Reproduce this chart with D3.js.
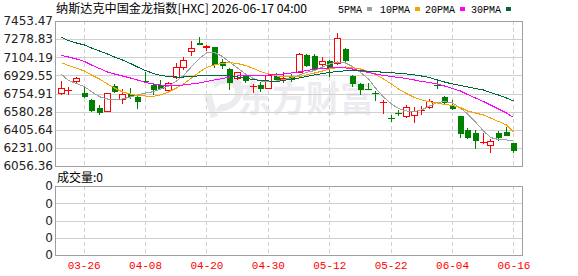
<!DOCTYPE html>
<html>
<head>
<meta charset="utf-8">
<script src="https://cdn.jsdelivr.net/npm/d3@7"></script>
<style>
body { margin: 0; background: #fff; }
svg { display: block; }
</style>
</head>
<body>
<div id="chart"></div>
<script>
// trading days shown (2026)
const dates = ["03-23","03-24","03-25","03-26","03-27","03-30","03-31","04-01","04-02","04-06",
  "04-07","04-08","04-09","04-10","04-13","04-14","04-15","04-16","04-17","04-20",
  "04-21","04-22","04-23","04-24","04-27","04-28","04-29","04-30","05-01","05-04",
  "05-05","05-06","05-07","05-08","05-11","05-12","05-13","05-14","05-15","05-18",
  "05-19","05-20","05-21","05-22","05-26","05-27","05-28","05-29","06-01","06-02",
  "06-03","06-04","06-05","06-08","06-09","06-10","06-11","06-12","06-15","06-16"];

const open = [6762.6,6784,6878.3,6762.6,6689.4,6615.3,6589.2,6827.2,6702.0,6747.3,
  6724.1,6878.3,6836.9,6836.9,6788.7,6916.8,7013.2,7161.6,7238.6,7205,
  7200.1,7061.4,6991.0,6901.4,6923.6,6825,6836.9,6810.8,6926.5,6898,
  6913.9,6965.0,7125.9,7116.3,7036.3,7068.1,7051.7,7183.7,6923.6,6843.6,
  6799,6758,6669,6517,6571,6541.1,6547.8,6592,6627.8,6838,
  6724.1,6637.4,6536,6403.3,6377.3,6284,6255.9,6377.3,6384.0,6275.1];
const high = [6875.4,6814.7,6916.8,6827.2,6702.0,6641.3,6760,6846.5,6798.3,6810.8,
  6750.1,6965.0,6849.4,6882.1,6868.7,7051.7,7103.8,7260.8,7302.2,7222.3,
  7205.9,7084.5,7003.5,6966,6940.0,6846.5,6862.9,6942.8,6949.6,6962,
  6940,7145.2,7132.7,7132.7,7109.5,7077.7,7340.8,7190.5,6933.2,6853.2,
  6853.2,6779.0,6692.3,6547.8,6596.0,6644.2,6622.0,6634.5,6704.9,6885.0,
  6730.9,6692.3,6538.2,6419.7,6403.3,6377.3,6313.7,6390.8,6429.3,6280.9];
const low = [6750.1,6750.1,6853.2,6718.4,6586.3,6560.3,6586,6769.4,6666.3,6714.5,
  6618.1,6865.8,6753.0,6805.0,6779.0,6907.2,6993.9,7125.9,7234,7174.1,
  7013.2,7003.5,6798.3,6894.6,6868.7,6772.3,6779.0,6805.0,6885.0,6870,
  6878.3,6959.2,7017.0,6981.4,7029.6,6926.5,7036.3,7055.6,6827.2,6747.3,
  6795,6692.3,6564.2,6490.0,6547.8,6531.4,6483.3,6557.4,6612.4,6805.0,
  6666.3,6608.5,6338.7,6323.3,6232.8,6275.1,6188.4,6306.9,6352,6194.2];
const close = [6805.0,6786,6901.4,6730.9,6598.9,6579.6,6756.9,6781.9,6753.0,6733.8,
  6682.7,6872,6795.4,6810.8,6853.2,7013.2,7077.7,7190.5,7236,7208,
  7036.3,7029.6,6862.9,6959.2,6882.1,6828,6805.0,6933.2,6894.7,6901,
  6894.7,7132.7,7029.6,7003.5,7068.1,7013.2,7286.8,7077.7,6853.2,6798.3,
  6797,6756,6671,6515,6569,6622.0,6589.2,6594,6685.6,6836,
  6676.0,6615.3,6371.5,6332.9,6306.9,6286,6297.3,6338.7,6355.1,6210.6];

const ma5 = [6939.9,6880.2,6851.3,6820.4,6772.3,6724.1,6701.9,6692.3,6701.9,6721.2,
  6740.5,6759.7,6772.3,6798.3,6827.2,6875.4,6928.4,7013.1,7094.1,7145.1,
  7150.0,7111.4,7058.4,7000.6,6942.8,6899.5,6875.4,6870.5,6875.4,6889.8,
  6904.3,6933.2,6957.3,6976.5,7010.3,7039.2,7058.4,7048.8,7015.1,6957.3,
  6894.6,6807.9,6721.2,6653.8,6610.4,6586.3,6581.5,6596.0,6634.5,6668.2,
  6677.8,6663.4,6615.2,6557.4,6480.3,6393.6,6331.0,6311.7,6306.9,6302.1];
const ma10 = [7051.7,7024.7,6997.7,6971.7,6933.2,6894.6,6846.5,6807.9,6769.4,6750.1,
  6735.7,6730.8,6728.0,6740.5,6769.4,6807.9,6846.5,6904.3,6962.1,7005.4,
  7029.5,7045.9,7051.7,7044.0,7024.7,6995.8,6966.9,6942.8,6923.5,6915.8,
  6913.9,6918.7,6933.2,6952.4,6971.7,6991.0,7005.4,7010.3,7005.4,6991.0,
  6966.9,6938.0,6894.6,6846.5,6798.3,6754.9,6716.4,6692.3,6675.9,6663.4,
  6648.9,6639.3,6620.0,6586.3,6567.0,6547.8,6518.9,6485.1,6451.4,6384.0];
const ma20 = [7121.1,7106.6,7087.3,7063.2,7029.5,6995.8,6962.1,6942.8,6923.5,6904.3,
  6885.0,6860.9,6846.5,6836.8,6832.0,6832.0,6836.8,6846.5,6856.1,6870.5,
  6885.0,6899.5,6913.9,6923.5,6928.4,6930.3,6931.2,6933.2,6935.1,6942.8,
  6952.4,6964.0,6976.5,6988.1,6995.8,7000.6,7002.5,7000.6,6991.0,6971.7,
  6957.3,6942.8,6928.4,6918.7,6909.1,6899.5,6885.0,6870.5,6860.9,6846.5,
  6827.2,6803.1,6779.0,6745.3,6711.6,6677.8,6644.1,6605.6,6567.0,6523.7];
const ma30 = [7294.5,7265.6,7241.5,7222.2,7193.3,7164.4,7135.5,7106.6,7077.7,7044.0,
  7010.3,6976.5,6947.6,6928.4,6918.7,6913.9,6913.9,6918.7,6925.5,6928.4,
  6930.3,6928.4,6923.5,6913.9,6899.5,6889.8,6880.2,6875.4,6870.5,6880.2,
  6894.6,6904.3,6918.7,6933.2,6947.6,6957.3,6966.9,6973.6,6976.5,6973.6,
  6969.8,6965.0,6960.2,6955.3,6949.6,6942.8,6933.2,6923.5,6909.1,6885.0,
  6865.7,6846.5,6832.0,6817.6,6803.1,6788.6,6764.6,6740.5,6711.6,6682.7];

const yTicks = [7453.47,7278.83,7104.19,6929.55,6754.91,6580.28,6405.64,6231.00,6056.36];
const dateTicks = ["03-26","04-08","04-20","04-30","05-12","05-22","06-04","06-16"];
const volTicks = ["0","0","0","0","0"];
const maNames = ["5PMA","10PMA","20PMA","30PMA"];
const maColors = ["#a0a0a0","#f5a300","#ff00ff","#00693a"];

const W = 578, H = 276;
const pLeft = 55.5, pRight = 522.5, pTop = 21, pBottom = 166;
const vTop = 186, vBottom = 255;

const svg = d3.select("#chart").append("svg")
    .attr("width", W)
    .attr("height", H);

svg.append("rect").attr("width", W).attr("height", H).attr("fill", "#fff");

const x = d3.scaleBand().domain(dates).range([56.8, 517.3]);
const cx = d => Math.round(x(d) + x.bandwidth() / 2);
const y = d3.scaleLinear().domain([6056.36, 7453.47]).range([pBottom, pTop]);
const yv = d3.scaleLinear().domain([0, 4]).range([vBottom, vTop]);

// watermark
const wm = svg.append("g").attr("fill", "#ececf0");
wm.append("path")
    .attr("d", "M212,80 C226,70 246,76 243,92 C240,106 227,114 214,111 L221,104 C231,104 236,98 235,91 C233,82 222,82 215,88 Z M204,95 L211,118 L218,116 L211,93 Z");
wm.append("text")
    .attr("x", 238).attr("y", 112)
    .attr("font-family", "Noto Sans CJK SC")
    .attr("font-weight", "bold")
    .attr("font-size", 36)
    .attr("textLength", 136)
    .attr("lengthAdjust", "spacingAndGlyphs")
    .text("东方财富");

// grid
const grid = svg.append("g").attr("stroke", "#d0d0d0").attr("stroke-width", 1);
grid.append("g").selectAll("line").data(yTicks).join("line")
    .attr("x1", pLeft).attr("x2", pRight)
    .attr("y1", d => Math.round(y(d)) + 0.5).attr("y2", d => Math.round(y(d)) + 0.5);
grid.append("g").selectAll("line").data(d3.range(5)).join("line")
    .attr("x1", pLeft).attr("x2", pRight)
    .attr("y1", d => Math.round(yv(d)) + 0.5).attr("y2", d => Math.round(yv(d)) + 0.5);
[[pTop, pBottom], [vTop, vBottom]].forEach(([a, b]) => {
    grid.append("g").selectAll("line").data(dateTicks).join("line")
        .attr("x1", d => cx(d) + 0.5).attr("x2", d => cx(d) + 0.5)
        .attr("y1", a).attr("y2", b)
        .attr("stroke-dasharray", "4,3");
});

// candles
const up = "#ff0000", down = "#008000";
const candles = svg.append("g");
dates.forEach((d, i) => {
    const c = cx(d);
    const o = open[i], cl = close[i];
    const rise = cl >= o;
    const col = rise ? up : down;
    const yo = Math.round(y(o)), yc = Math.round(y(cl));
    const yh = Math.round(y(high[i])), yl = Math.round(y(low[i]));
    const g = candles.append("g").attr("stroke", col).attr("stroke-width", 1);
    if (Math.abs(yo - yc) < 1) {
        g.append("line").attr("x1", c + 0.5).attr("x2", c + 0.5).attr("y1", yh).attr("y2", yl + 1);
        g.append("line").attr("x1", c - 3).attr("x2", c + 4).attr("y1", yo + 0.5).attr("y2", yo + 0.5);
    } else if (rise) {
        g.append("line").attr("x1", c + 0.5).attr("x2", c + 0.5).attr("y1", yh).attr("y2", yc);
        g.append("line").attr("x1", c + 0.5).attr("x2", c + 0.5).attr("y1", yo).attr("y2", yl + 1);
        g.append("rect").attr("x", c - 2.5).attr("y", yc + 0.5)
            .attr("width", 6).attr("height", yo - yc)
            .attr("fill", "#fff");
    } else {
        g.append("line").attr("x1", c + 0.5).attr("x2", c + 0.5).attr("y1", yh).attr("y2", yl + 1);
        g.append("rect").attr("x", c - 2).attr("y", yo)
            .attr("width", 6).attr("height", yc - yo + 1)
            .attr("fill", col).attr("stroke", "none");
    }
});

// moving averages
const line = d3.line()
    .x((v, i) => cx(dates[i]) + 0.5)
    .y(v => y(v));
[ma5, ma10, ma20, ma30].forEach((s, k) => {
    svg.append("path")
        .datum(s)
        .attr("fill", "none")
        .attr("stroke", maColors[k])
        .attr("stroke-width", 1)
        .attr("shape-rendering", "crispEdges")
        .attr("d", line);
});

// frames
svg.append("rect").attr("x", pLeft).attr("y", pTop + 0.5)
    .attr("width", pRight - pLeft).attr("height", pBottom - pTop)
    .attr("fill", "none").attr("stroke", "#a0a0a0");
svg.append("rect").attr("x", pLeft).attr("y", vTop + 0.5)
    .attr("width", pRight - pLeft).attr("height", vBottom - vTop)
    .attr("fill", "none").attr("stroke", "#a0a0a0");

// axes
const yAxis = svg.append("g")
    .attr("transform", "translate(54,0)")
    .call(d3.axisLeft(y).tickValues(yTicks).tickSize(0).tickPadding(1).tickFormat(d3.format(".2f")));
yAxis.select(".domain").remove();
yAxis.selectAll("text").attr("font-family", "DejaVu Sans").attr("font-size", 12).attr("fill", "#222");

const vAxis = svg.append("g")
    .attr("transform", "translate(54,0)")
    .call(d3.axisLeft(yv).tickValues(d3.range(5)).tickSize(0).tickPadding(1).tickFormat((d, i) => volTicks[i]));
vAxis.select(".domain").remove();
vAxis.selectAll("text").attr("font-family", "DejaVu Sans").attr("font-size", 12).attr("fill", "#222");

const xAxis = svg.append("g")
    .attr("transform", `translate(0.5,${vBottom})`)
    .call(d3.axisBottom(x).tickValues(dateTicks).tickSize(0).tickPadding(6));
xAxis.select(".domain").remove();
xAxis.selectAll("text").attr("font-family", "Liberation Mono").attr("font-size", 11).attr("fill", "#ff0000");

// title and legend
svg.append("text")
    .attr("x", 56).attr("y", 13)
    .attr("font-family", "Noto Sans CJK SC")
    .attr("font-size", 12)
    .attr("fill", "#000")
    .attr("textLength", 251)
    .attr("lengthAdjust", "spacingAndGlyphs")
    .text("纳斯达克中国金龙指数[HXC] 2026-06-17 04:00");

const legX = [338, 380, 425, 471];
const leg = svg.append("g");
maNames.forEach((n, k) => {
    leg.append("text")
        .attr("x", legX[k]).attr("y", 13)
        .attr("font-family", "Liberation Mono")
        .attr("font-size", 10)
        .attr("fill", "#000")
        .text(n);
    leg.append("rect")
        .attr("x", legX[k] + n.length * 6 + 5).attr("y", 7)
        .attr("width", 5).attr("height", 4)
        .attr("fill", maColors[k]);
});

svg.append("text")
    .attr("x", 57).attr("y", 182)
    .attr("font-family", "Noto Sans CJK SC")
    .attr("font-size", 12)
    .attr("fill", "#000")
    .text("成交量:0");
</script>
</body>
</html>
